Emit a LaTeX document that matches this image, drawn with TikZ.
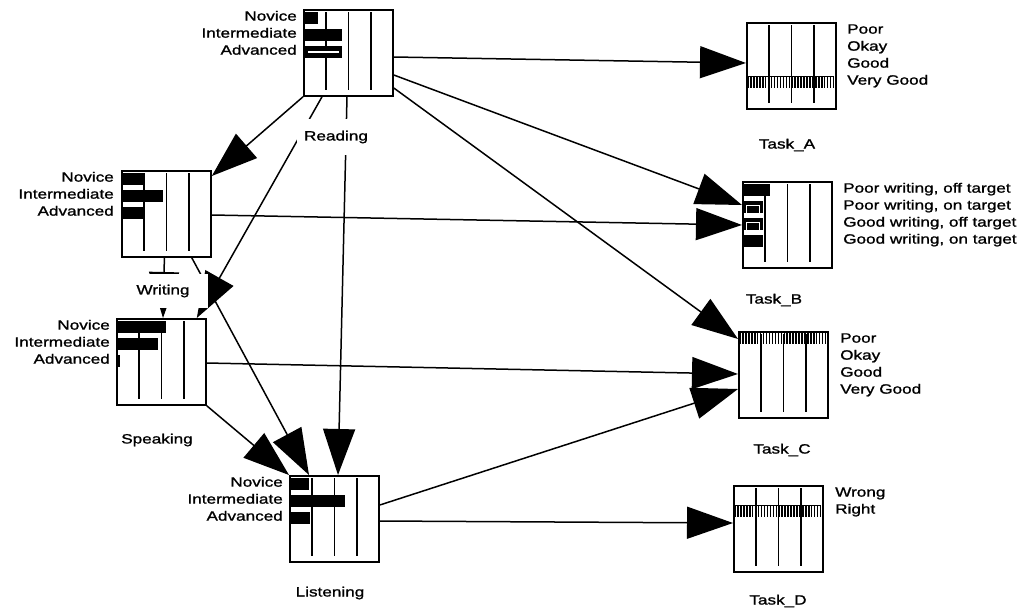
\documentclass[tikz,border=0pt]{standalone}
\usepackage{fontspec}
\setmainfont{Liberation Sans}[FakeStretch=1.27,FakeBold=1.2]
\usetikzlibrary{arrows.meta,calc}

\newcommand\statefont{\fontsize{13.5}{17}\selectfont}

\tikzset{
  box/.style={draw, fill=white, line width=1.8pt, minimum width=89pt, minimum height=86pt, inner sep=0pt, anchor=north west},
  gridline/.style={line width=1.2pt},
  stateleft/.style={font=\statefont, inner sep=0pt, anchor=mid east},
  stateright/.style={font=\statefont, inner sep=0pt, anchor=mid west},
  varname/.style={font=\statefont, fill=white, inner sep=0pt, minimum width=80pt, minimum height=34pt},
  link/.style={line width=1.5pt, -{Triangle[length=46pt,width=32pt]}},
}

% box with three quarter grid lines: name, left, top
\newcommand\netbox[3]{%
  \node[box] (#1) at (#2,#3) {};
  \foreach \g in {23,45.5,68}{\draw[gridline] ({#2+\g},{#3+3}) -- ({#2+\g},{#3+81});}
}
% probability bar: left, top, row, length
\newcommand\probbar[4]{\fill ({#1+2},{#2+3+17*#3}) rectangle ++(#4,12);}
% hatched band across a box: left, y
\newcommand\hatchband[2]{%
  \draw[line width=1pt] ({#1+1},{#2}) -- ++(87,0);
  \foreach \i in {0,...,29}{\draw[line width=1.5pt] ({#1+2+\i*2.95},{#2}) -- ++(0,12);}
}

\begin{document}
\begin{tikzpicture}[x=1pt,y=-1pt]
\useasboundingbox (0,0) rectangle (1020,614);

% node boxes (placed first so connectors can refer to them)
\netbox{reading}{303}{9}
\netbox{writing}{121}{170}
\netbox{speaking}{116}{318}
\netbox{listening}{289}{475}
\netbox{taskA}{746}{22}
\netbox{taskB}{742}{181}
\netbox{taskC}{738}{331}
\netbox{taskD}{733}{485}

% connectors
\draw[link] ($(reading.north east)+(0,48)$) -- ($(taskA.north west)+(0,41)$);
\draw[link] ($(reading.north east)+(0,66)$) -- ($(taskB.north west)+(0,24)$);
\draw[link] ($(reading.north east)+(0,79)$) -- ($(taskC.north west)+(0,8)$);
\draw[link] (reading.south west) -- ($(writing.north east)+(0,6)$);
\draw[link] ($(reading.south west)+(19,0)$) -- ($(speaking.north east)+(-10,0)$);
\draw[link] ($(reading.south west)+(44,0)$) -- ($(listening.north west)+(49,0)$);
\draw[line width=1.5pt, -{Triangle[length=46pt,width=30pt]}] ($(writing.south)+(-2,0)$) -- ($(speaking.north west)+(47,0)$);
\draw[link] ($(writing.south east)+(-20,0)$) -- ($(listening.north west)+(20,0)$);
\draw[link] ($(writing.north east)+(0,45)$) -- ($(taskB.north west)+(0,44)$);
\draw[link] (speaking.south east) -- (listening.north west);
\draw[link] ($(speaking.north east)+(0,45)$) -- ($(taskC.north west)+(0,43)$);
\draw[link] ($(listening.north east)+(0,30)$) -- ($(taskC.north west)+(0,58)$);
\draw[link] ($(listening.north east)+(0,46)$) -- ($(taskD.north west)+(0,38)$);

% Reading
\probbar{303}{9}{0}{13}
\probbar{303}{9}{1}{37}
\probbar{303}{9}{2}{37}
\draw[white, line width=1.2pt] (308,52) -- (339,52);
\node[stateleft] (rdNov) at (297,18) {Novice};
\node[stateleft] (rdInt) at (297,35) {Intermediate};
\node[stateleft] (rdAdv) at (297,52) {Advanced};

% Writing
\probbar{121}{170}{0}{20}
\probbar{121}{170}{1}{40}
\probbar{121}{170}{2}{20}
\node[stateleft] (wrNov) at (114,179) {Novice};
\node[stateleft] (wrInt) at (114,196) {Intermediate};
\node[stateleft] (wrAdv) at (114,213) {Advanced};

% Speaking
\probbar{116}{318}{0}{48}
\probbar{116}{318}{1}{40}
\probbar{116}{318}{2}{2}
\node[stateleft] (spNov) at (110,327) {Novice};
\node[stateleft] (spInt) at (110,344) {Intermediate};
\node[stateleft] (spAdv) at (110,361) {Advanced};

% Listening
\probbar{289}{475}{0}{18}
\probbar{289}{475}{1}{54}
\probbar{289}{475}{2}{19}
\node[stateleft] (liNov) at (283,484) {Novice};
\node[stateleft] (liInt) at (283,501) {Intermediate};
\node[stateleft] (liAdv) at (283,518) {Advanced};

% Task_A
\hatchband{746}{76}
\node[stateright] (taPoor) at (847,31) {Poor};
\node[stateright] (taOkay) at (847,48) {Okay};
\node[stateright] (taGood) at (847,65) {Good};
\node[stateright] (taVery) at (847,82) {Very Good};

% Task_B
\probbar{742}{181}{0}{26}
\probbar{742}{181}{1}{19}
\probbar{742}{181}{2}{19}
\probbar{742}{181}{3}{19}
\draw[white, line width=0.8pt] (746.5,205.5) rectangle (759.5,213.5);
\draw[white, line width=0.8pt] (746.5,222.5) rectangle (759.5,230.5);
\node[stateright] (tbPoOff) at (843,190) {Poor writing, off target};
\node[stateright] (tbPoOn) at (843,207) {Poor writing, on target};
\node[stateright] (tbGoOff) at (843,224) {Good writing, off target};
\node[stateright] (tbGoOn) at (843,241) {Good writing, on target};

% Task_C
\hatchband{738}{332}
\node[stateright] (tcPoor) at (840,340) {Poor};
\node[stateright] (tcOkay) at (840,357) {Okay};
\node[stateright] (tcGood) at (840,374) {Good};
\node[stateright] (tcVery) at (840,391) {Very Good};

% Task_D
\hatchband{733}{505}
\node[stateright] (tdWrong) at (835,494) {Wrong};
\node[stateright] (tdRight) at (835,511) {Right};

% variable names, set on white so they mask the lines behind them
\node[varname, minimum width=78pt, minimum height=36pt] (readingname) at (336,137) {Reading};
\node[varname, minimum width=90pt] (writingname) at (163,291) {Writing};
\node[varname] (speakingname) at (157,440) {Speaking};
\node[varname] (listeningname) at (330,593) {Listening};
\node[varname] (taskAname) at (787,145) {Task\_A};
\node[varname] (taskBname) at (774,300) {Task\_B};
\node[varname] (taskCname) at (782,450) {Task\_C};
\node[varname] (taskDname) at (778,601) {Task\_D};
\end{tikzpicture}
\end{document}
